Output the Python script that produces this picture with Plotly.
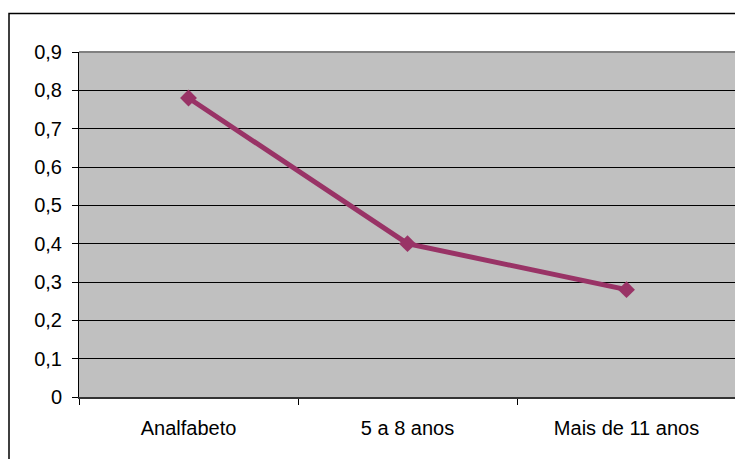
import plotly.graph_objects as go

categories = ["Analfabeto", "5 a 8 anos", "Mais de 11 anos"]
values = [0.78, 0.40, 0.28]
y_tick_vals = [0, 0.1, 0.2, 0.3, 0.4, 0.5, 0.6, 0.7, 0.8, 0.9]
y_tick_text = ["0", "0,1", "0,2", "0,3", "0,4", "0,5", "0,6", "0,7", "0,8", "0,9"]

# page body has an 8px margin; figure coordinates are relative to (8, 8)
OFF = 8
W, H = 735, 451
ml, mr, mt, mb = 71, 7, 44, 62
pw, ph = W - ml - mr, H - mt - mb

def px_to_paper_x(px):
    return (px - OFF - ml) / pw

def px_to_paper_y(py):
    return (H - mb - (py - OFF)) / ph

fig = go.Figure()
fig.add_trace(go.Scatter(
    x=categories, y=values, mode="lines+markers",
    line=dict(color="#993366", width=5),
    marker=dict(symbol="diamond", size=13, color="#993366"),
    showlegend=False, cliponaxis=False,
))

fig.update_layout(
    width=W, height=H,
    margin=dict(l=ml, r=mr, t=mt, b=mb),
    paper_bgcolor="white",
    plot_bgcolor="#C0C0C0",
    font=dict(family="Liberation Sans, Arial, sans-serif", size=20, color="black"),
    xaxis=dict(
        type="category", tickson="boundaries", ticks="outside", ticklen=6,
        tickcolor="black", showgrid=False, showline=True, linecolor="#333333",
        linewidth=2, ticklabelstandoff=12, range=[-0.5, 2.5], fixedrange=True,
    ),
    yaxis=dict(
        range=[0, 0.9], tickvals=y_tick_vals, ticktext=y_tick_text,
        ticks="outside", ticklen=6, tickcolor="black", showgrid=True,
        gridcolor="black", gridwidth=1, showline=True, linecolor="black",
        linewidth=1, zeroline=False, ticklabelstandoff=6,
    ),
    shapes=[
        dict(type="line", xref="paper", yref="paper", x0=0, x1=1, y0=1, y1=1,
             line=dict(color="#808080", width=2)),
        dict(type="line", xref="paper", yref="paper", x0=1, x1=1, y0=0, y1=1,
             line=dict(color="#808080", width=2)),
        dict(type="rect", xref="paper", yref="paper",
             x0=px_to_paper_x(9), x1=px_to_paper_x(760),
             y0=px_to_paper_y(480), y1=px_to_paper_y(13.5),
             line=dict(color="black", width=1.5), fillcolor="rgba(0,0,0,0)"),
    ],
)

fig.write_html("out.html")
